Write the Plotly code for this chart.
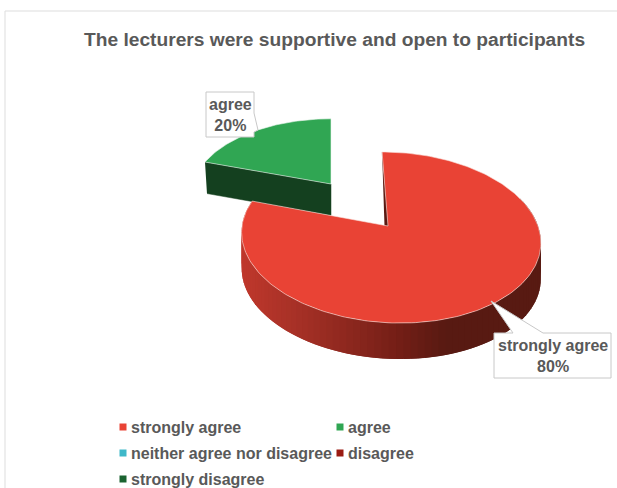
import numpy as np
import plotly.graph_objects as go

# ---- data ----
categories = ["strongly agree", "agree", "neither agree nor disagree", "disagree", "strongly disagree"]
percent = [80, 20, 0, 0, 0]
title_text = "The lecturers were supportive and open to participants"

# ---- style ----
top_colors = ["#E94335", "#30A653", "#3FB8C9", "#9A1B12", "#1A6330"]
GREY = "#595959"
FONT = "Liberation Sans"
W, H = 617, 488

# drawing geometry of the exploded slices (pixel space of the hidden axes)
geom = {
    "strongly agree": dict(ax=388.0, ay=226.0, R=148.0, Ry=84.0, depth=36.0, k=0.1346, dx=2.0, shear=-9.0, first=70.0),
    "agree": dict(ax=331.0, ay=184.0, R=138.0, Ry=74.0, depth=31.5, k=0.1346, dx=0.0, shear=0.0),
}
legend_x = [123, 340, 123, 340, 123]
legend_y = [427, 427, 453, 453, 479]
legend_text_gap = 8


def project(g, theta_deg):
    t = np.radians(theta_deg)
    u, v = np.sin(t), np.cos(t)
    s = 1.0 / (1.0 + g["k"] * v)
    return g["ax"] + g["dx"] + (g["R"] * u + g["shear"] * v) * s, g["ay"] - g["Ry"] * v * s


def side_color(x):
    r = np.interp(x, [240, 300, 400, 445], [192, 165, 115, 88])
    g = np.interp(x, [240, 300, 400, 445], [56, 48, 30, 26])
    b = np.interp(x, [240, 300, 400, 445], [44, 38, 22, 18])
    return f"rgb({r:.0f},{g:.0f},{b:.0f})"


def poly(xs, ys, fill, line=None, width=0.0, name=None):
    return go.Scatter(
        x=list(xs), y=list(ys), mode="lines", fill="toself", fillcolor=fill,
        line=dict(color=line or fill, width=width), hoverinfo="skip",
        showlegend=False, name=name,
    )


fig = go.Figure()

# green slice: cut face, then top
g = geom["agree"]
sweep = percent[categories.index("agree")] * 3.6
th = np.linspace(-sweep, 0, 60)
xr, yr = project(g, th)
fig.add_trace(poly(
    [xr[0], g["ax"], g["ax"], xr[0] + 2],
    [yr[0], g["ay"], g["ay"] + g["depth"], yr[0] + g["depth"]],
    "#14401F", width=0.5, name="agree side"))
fig.add_trace(poly(
    np.r_[g["ax"], xr, g["ax"]], np.r_[g["ay"], yr, g["ay"]],
    top_colors[1], line="rgba(235,245,238,0.75)", width=0.8, name="agree"))

# red slice: shaded rim (overlapping strips, no seams), then thin cut wall, then top
g = geom["strongly agree"]
sweep = percent[categories.index("strongly agree")] * 3.6
th_all = np.linspace(0, sweep, 220)
th_side = np.linspace(g["first"], sweep, 91)
step = th_side[1] - th_side[0]
for a in th_side[:-1]:
    seg = np.linspace(a, min(a + 2 * step, th_side[-1]), 5)
    xs, ys = project(g, seg)
    xmid, _ = project(g, a + step / 2)
    fig.add_trace(poly(
        np.r_[xs, xs[::-1]], np.r_[ys, ys[::-1] + g["depth"]],
        side_color(xmid), width=0, name="strongly agree side"))
xr, yr = project(g, th_all)
fig.add_trace(poly(
    [xr[0], g["ax"] + 0.5, g["ax"] - 3.5],
    [yr[0], g["ay"], g["ay"]],
    "#5A1A12", width=0.3, name="strongly agree wall"))
fig.add_trace(poly(
    np.r_[g["ax"], xr, g["ax"]], np.r_[g["ay"], yr, g["ay"]],
    top_colors[0], line="rgba(250,225,220,0.75)", width=0.8, name="strongly agree"))

# legend rows
for name, color, lx, ly in zip(categories, top_colors, legend_x, legend_y):
    fig.add_trace(go.Scatter(
        x=[lx], y=[ly], mode="markers",
        marker=dict(symbol="square", size=7, color=color),
        hoverinfo="skip", showlegend=False, name=name,
    ))

BORDER = "#C8C8C8"
shapes = [
    dict(type="line", x0=5, x1=617, y0=11, y1=11, line=dict(color="#DDDDDD", width=1), layer="below"),
    dict(type="line", x0=5, x1=5, y0=11, y1=488, line=dict(color="#DDDDDD", width=1), layer="below"),
    dict(type="path", layer="above", fillcolor="white", line=dict(color=BORDER, width=1),
         path="M206,92 L254,92 L254,113 L258,130 L254,132 L254,137 L206,137 Z"),
    dict(type="path", layer="above", fillcolor="white", line=dict(color=BORDER, width=1),
         path="M494,333 L513,333 L491,301 L543,333 L611,333 L611,378 L494,378 Z"),
]

annotations = [
    dict(x=230, y=114.5, text=f"<b>agree<br>{percent[1]}%</b>", showarrow=False,
         font=dict(family=FONT, size=16, color=GREY), align="center"),
    dict(x=552.5, y=355.5, text=f"<b>strongly agree<br>{percent[0]}%</b>", showarrow=False,
         font=dict(family=FONT, size=16, color=GREY), align="center"),
]
for name, lx, ly in zip(categories, legend_x, legend_y):
    annotations.append(dict(x=lx + legend_text_gap, y=ly, text=f"<b>{name}</b>", showarrow=False,
                            xanchor="left", yanchor="middle", xshift=-2,
                            font=dict(family=FONT, size=16, color=GREY)))

fig.update_layout(
    width=W, height=H, margin=dict(l=0, r=0, t=0, b=0),
    paper_bgcolor="white", plot_bgcolor="white", showlegend=False,
    title=dict(text=f"<b>{title_text}</b>", x=334.5 / W, y=1 - 39 / H, xanchor="center", yanchor="middle",
               font=dict(family=FONT, size=19.2, color=GREY)),
    xaxis=dict(range=[0, W], visible=False, fixedrange=True),
    yaxis=dict(range=[H, 0], visible=False, fixedrange=True),
    shapes=shapes, annotations=annotations,
)
fig.write_html("out.html", config=dict(displayModeBar=False),
               post_script="document.body.style.margin='0';document.documentElement.style.overflow='hidden';")
